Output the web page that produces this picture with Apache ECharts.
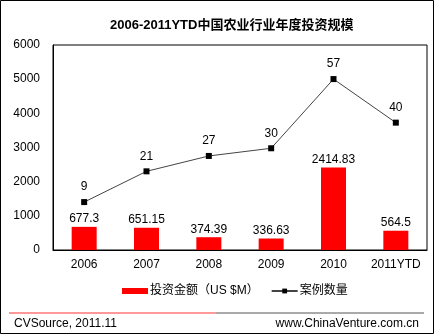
<!DOCTYPE html>
<html><head><meta charset="utf-8">
<script src="https://cdn.jsdelivr.net/npm/echarts@6/dist/echarts.min.js"></script>
<style>html,body{margin:0;padding:0;background:#fff}#c{width:435px;height:335px}</style>
</head><body><div id="c"></div>
<script>
const categories = ['2006','2007','2008','2009','2010','2011YTD'];
const investAmount = [677.3, 651.15, 374.39, 336.63, 2414.83, 564.5];
const investLabels = ['677.3','651.15','374.39','336.63','2414.83','564.5'];
const caseCount = [9, 21, 27, 30, 57, 40];
const leftTicks = [0, 1000, 2000, 3000, 4000, 5000, 6000];

const FONT = '"Liberation Sans", Arial, "Noto Sans CJK SC", sans-serif';
const chart = echarts.init(document.getElementById('c'), null, {renderer:'canvas'});
chart.setOption({
  animation: false,
  backgroundColor: '#fff',
  textStyle: {fontFamily: FONT},
  title: {
    text: '2006-2011YTD中国农业行业年度投资规模',
    left: 105, top: 14,
    textStyle: {fontSize: 13, fontWeight: 'bold', color: '#000', fontFamily: FONT}
  },
  grid: {left: 53, right: 8, top: 45, bottom: 85, show: true, borderColor: '#000', borderWidth: 1, backgroundColor: 'transparent'},
  legend: {
    bottom: 33, left: 117,
    itemWidth: 26, itemHeight: 6, itemGap: 12,
    textStyle: {fontSize: 12, color: '#000', fontFamily: FONT, padding: [0,0,0,-3]},
    data: [
      {name: '投资金额（US $M）', icon: 'rect'},
      {name: '案例数量'}
    ]
  },
  xAxis: {
    type: 'category', data: categories,
    axisLine: {lineStyle: {color: '#000'}},
    axisTick: {show: false},
    axisLabel: {color: '#000', fontSize: 12, margin: 9, interval: 0}
  },
  yAxis: [{
    type: 'value', min: leftTicks[0], max: leftTicks[leftTicks.length-1], interval: 1000,
    axisLine: {show: true, lineStyle: {color: '#000'}},
    axisTick: {show: false},
    splitLine: {show: false},
    axisLabel: {color: '#000', fontSize: 12, margin: 13, formatter: v => String(v)}
  }, {
    type: 'value', min: -9.7, max: 70.3, show: false, splitLine: {show: false}
  }],
  series: [{
    name: '投资金额（US $M）', type: 'bar', data: investAmount, barWidth: 25,
    itemStyle: {color: '#ff0000'},
    label: {show: true, position: 'top', distance: 2, color: '#000', fontSize: 12,
      formatter: p => investLabels[p.dataIndex]}
  }, {
    name: '案例数量', type: 'line', yAxisIndex: 1, data: caseCount,
    symbol: 'rect', symbolSize: 6, showAllSymbol: true,
    lineStyle: {color: '#444', width: 1},
    itemStyle: {color: '#000'},
    label: {show: true, position: 'top', distance: 6, color: '#000', fontSize: 12}
  }],
  graphic: [
    {type: 'rect', shape: {x: 0.5, y: 0.5, width: 433, height: 333}, style: {fill: 'none', stroke: '#000', lineWidth: 1}},
    {type: 'line', shape: {x1: 9, y1: 313, x2: 216, y2: 313}, style: {stroke: '#ff3333', lineWidth: 1}},
    {type: 'line', shape: {x1: 216, y1: 313, x2: 424, y2: 313}, style: {stroke: '#555', lineWidth: 1}},
    {type: 'text', left: 14, top: 318, style: {text: 'CVSource, 2011.11', font: '12px ' + FONT, fill: '#000'}},
    {type: 'text', right: 16, top: 318, style: {text: 'www.ChinaVenture.com.cn', font: '12px ' + FONT, fill: '#000'}}
  ]
});
</script></body></html>
